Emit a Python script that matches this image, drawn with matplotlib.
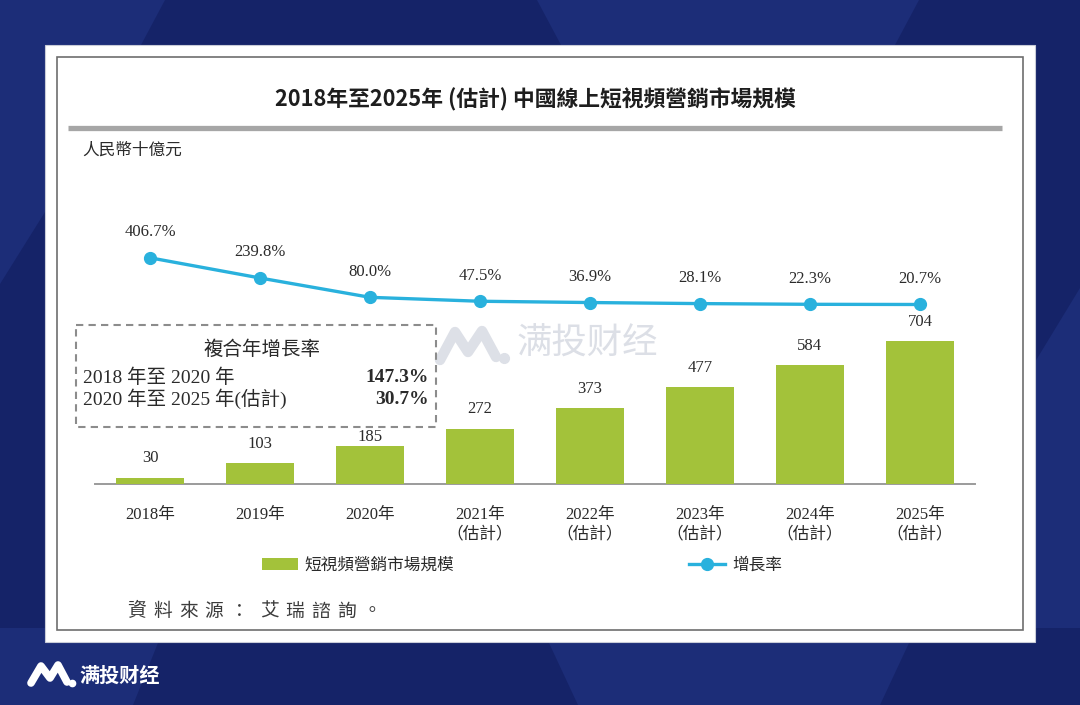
import matplotlib
matplotlib.use('Agg')
import matplotlib.pyplot as plt
from matplotlib.patches import Rectangle, Polygon
from matplotlib.font_manager import FontProperties

# ---------------- data ----------------
years = ['2018年', '2019年', '2020年', '2021年\n（估計）', '2022年\n（估計）',
         '2023年\n（估計）', '2024年\n（估計）', '2025年\n（估計）']
market_size = [30, 103, 185, 272, 373, 477, 584, 704]
growth_rate = [406.7, 239.8, 80.0, 47.5, 36.9, 28.1, 22.3, 20.7]
cagr_periods = ['2018 年至 2020 年', '2020 年至 2025 年(估計)']
cagr_values = ['147.3%', '30.7%']
title = '2018年至2025年 (估計) 中國線上短視頻營銷市場規模'
unit_label = '人民幣十億元'
bar_label = '短視頻營銷市場規模'
line_label = '增長率'
cagr_title = '複合年增長率'
source_a = '資料來源：'
source_b = '艾瑞諮詢。'
brand = '满投财经'

# ---------------- style ----------------
CJK = ['Noto Sans CJK TC', 'DejaVu Sans']
SERIF = ['Liberation Serif', 'Noto Sans CJK TC', 'DejaVu Sans']
SC = ['Noto Sans CJK SC', 'DejaVu Sans']
plt.rcParams['font.family'] = CJK
BAR = '#a3c23a'
LINE = '#29b1dd'
TXT = '#2a2a2a'
DARK = '#152368'
LIGHT = '#1c2d78'

W, H = 1080, 705
fig = plt.figure(figsize=(W / 100, H / 100), dpi=100)
fig.patch.set_facecolor(DARK)

bg = fig.add_axes([0, 0, 1, 1])
bg.set_xlim(0, W)
bg.set_ylim(H, 0)
bg.axis('off')
bg.add_patch(Rectangle((0, 0), W, H, color=DARK, zorder=0))
for pts in [
    [(0, 0), (165, 0), (141, 45), (45, 212), (0, 284)],
    [(537, 0), (919, 0), (895, 45), (561, 45)],
    [(1035, 362), (1080, 288), (1080, 628), (1035, 628)],
    [(0, 628), (164, 628), (133, 705), (0, 705)],
    [(542, 628), (916, 628), (880, 705), (578, 705)],
]:
    bg.add_patch(Polygon(pts, closed=True, color=LIGHT, lw=0, zorder=0.5))

# card and border
bg.add_patch(Rectangle((45, 45), 990, 597, facecolor='white',
                       edgecolor='#c9ccd8', lw=0.8, zorder=1))
bg.add_patch(Rectangle((57, 57), 966, 573, facecolor='none',
                       edgecolor='#6e6e6e', lw=1.2, zorder=2))

# title and separator
bg.text(535, 100, title, ha='center', va='center', fontsize=15.7,
        fontweight='bold', color='#1e1e1e', zorder=3)
bg.plot([68, 1002], [128, 128], color='#a6a6a6', lw=3.8,
        solid_capstyle='butt', zorder=3)
bg.text(82, 150, unit_label, ha='left', va='center', fontsize=12,
        color=TXT, zorder=3)

# watermark
bg.plot([440, 455, 468, 482, 496], [360, 332, 352, 331, 357],
        color='#dde0e7', lw=7.5, solid_capstyle='round',
        solid_joinstyle='round', zorder=2.5)
bg.plot([504], [358], 'o', color='#dde0e7', ms=7, zorder=2.5)
bg.text(517, 344, brand, ha='left', va='center', fontsize=25.5,
        family=SC, color='#dcdfe6', zorder=2.5)

# dashed CAGR box
bg.add_patch(Rectangle((76, 325), 360, 102, facecolor='none',
                       edgecolor='#8c8c8c', lw=1.5,
                       linestyle=(0, (3.5, 2.5)), zorder=3))
bg.text(262, 349, cagr_title, ha='center', va='center', fontsize=14,
        color=TXT, zorder=3)
for i, (p, v) in enumerate(zip(cagr_periods, cagr_values)):
    yy = 378 + 21 * i
    bg.text(83, yy, p, ha='left', va='center', fontsize=14,
            family=SERIF, color=TXT, zorder=3)
    bg.text(429, yy, v, ha='right', va='center', fontsize=14,
            family=SERIF, fontweight='bold', color=TXT, zorder=3)

# source
for i, ch in enumerate(source_a):
    bg.text(137 + 25.7 * i, 611, ch, ha='center', va='center',
            fontsize=13.5, color='#3c3c3c', zorder=3)
for i, ch in enumerate(source_b):
    bg.text(269 + 25.7 * i, 611, ch, ha='center', va='center',
            fontsize=13.5, color='#3c3c3c', zorder=3)

# bottom-left brand
bg.plot([31, 41, 50, 58, 67], [683, 666, 678, 665, 682], color='white',
        lw=5.5, solid_capstyle='round', solid_joinstyle='round', zorder=3)
bg.plot([72], [683], 'o', color='white', ms=4.5, zorder=3)
bg.text(79, 675, brand, ha='left', va='center', fontsize=14.5,
        family=SC, fontweight='bold', color='white', zorder=3)

# ---------------- chart ----------------
BASE = 484
TOP = 200
ax = fig.add_axes([95 / W, (H - BASE) / H, 880 / W, (BASE - TOP) / H])
ax.patch.set_alpha(0)
xs = list(range(len(years)))
bars = ax.bar(xs, market_size, width=0.62, color=BAR, label=bar_label,
              zorder=3)
ax.set_xlim(-0.5, len(years) - 0.5)
ax.set_ylim(0, (BASE - TOP) / 0.203)
for s in ['top', 'left', 'right']:
    ax.spines[s].set_visible(False)
ax.spines['bottom'].set_color('#9b9b9b')
ax.spines['bottom'].set_linewidth(1.4)
ax.set_yticks([])
ax.set_xticks(xs)
ax.set_xticklabels(years, fontsize=12, color=TXT, linespacing=1.33)
for lab in ax.get_xticklabels():
    lab.set_fontfamily(SERIF)
ax.tick_params(axis='x', length=0, pad=16.5)
for i, (xi, v) in enumerate(zip(xs, market_size)):
    # the 2020 label sits a little lower in the source, clear of the CAGR box
    off = 6.5 if i == 2 else 14
    ax.annotate(f'{v}', (xi, v), xytext=(0, off), textcoords='offset points',
                ha='center', va='center', fontsize=12, family=SERIF,
                color=TXT)

ax2 = ax.twinx()
ZERO = 307
ax2.set_ylim(-(BASE - ZERO) / 0.121, (ZERO - TOP) / 0.121)
line, = ax2.plot(xs, growth_rate, color=LINE, lw=2.4, marker='o', ms=8.5,
                 label=line_label, zorder=4)
ax2.axis('off')
for xi, g in zip(xs, growth_rate):
    ax2.annotate(f'{g:.1f}%', (xi, g), xytext=(0, 18.5),
                 textcoords='offset points', ha='center', va='center',
                 fontsize=12, family=SERIF, color=TXT)

fig.legend([bars, line], [bar_label, line_label], loc='center left',
           bbox_to_anchor=(262 / W, 1 - 565 / H),
           bbox_transform=fig.transFigure, frameon=False, ncol=2,
           handlelength=2.16, handleheight=0.72, handletextpad=0.4,
           columnspacing=14.1, borderpad=0, borderaxespad=0,
           prop=FontProperties(family=CJK, size=12), labelcolor=TXT)

fig.savefig('out.png', dpi=100, facecolor=DARK)
